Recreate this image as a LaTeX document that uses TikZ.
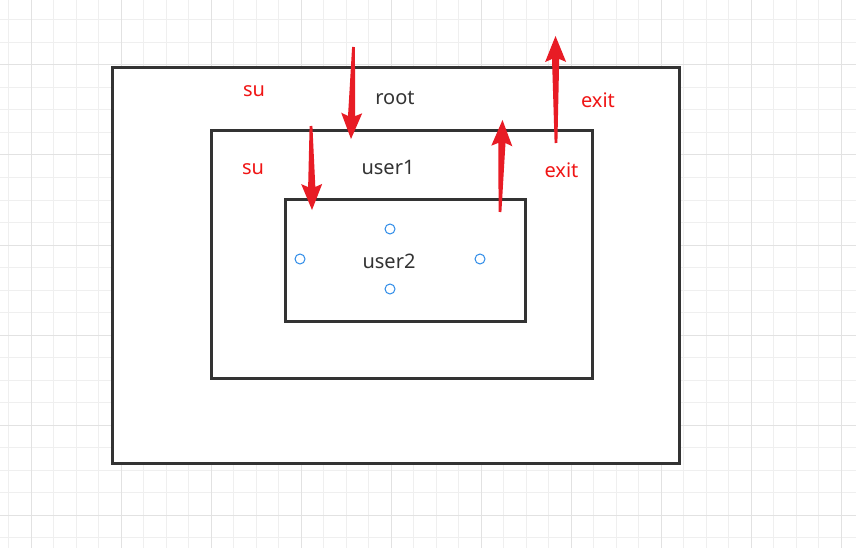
\documentclass[tikz,border=0pt]{standalone}
\usepackage{fontspec}
\setmainfont{Noto Sans}
\usetikzlibrary{calc}
\definecolor{gridminor}{HTML}{EFEFEF}
\definecolor{gridmajor}{HTML}{E2E2E2}
\definecolor{boxline}{HTML}{333333}
\definecolor{arrred}{HTML}{E81C25}
\definecolor{txtred}{HTML}{F01515}
\definecolor{ptblue}{HTML}{2E8BE8}
\tikzset{
  box/.style={draw=boxline, line width=3pt, fill=white, rectangle, inner sep=0pt},
  lbl/.style={font=\fontsize{20}{22}\selectfont, text=black!80, inner sep=0pt},
  redlbl/.style={font=\fontsize{20}{22}\selectfont, text=txtred, inner sep=0pt},
  redarrow/.style={fill=arrred},
  pt/.style={circle, draw=ptblue, line width=1pt, fill=white, minimum size=10pt, inner sep=0pt}
}
\newcommand\taperarrow[2]{%
  \fill[redarrow]
    ($(#1)!1.4pt!90:(#2)$) --
    ($($(#2)!23pt!(#1)$)!3.6pt!90:(#2)$) --
    ($($(#2)!26pt!(#1)$)!10.5pt!90:(#2)$) --
    (#2) --
    ($($(#2)!26pt!(#1)$)!10.5pt!-90:(#2)$) --
    ($($(#2)!23pt!(#1)$)!3.6pt!-90:(#2)$) --
    ($(#1)!1.4pt!-90:(#2)$) -- cycle;}
\begin{document}
\begin{tikzpicture}[x=1pt, y=-1pt]
\useasboundingbox (0,0) rectangle (856,548);
\fill[white] (0,0) rectangle (856,548);
% grid
\foreach \i in {0,...,37} {
  \draw[gridminor, line width=1pt] ({8.5+22.5*\i},0) -- ({8.5+22.5*\i},548);
}
\foreach \j in {1,...,24} {
  \draw[gridminor, line width=1pt] (0,{-2.5+22.5*\j}) -- (856,{-2.5+22.5*\j});
}
\foreach \i in {0,...,9} {
  \draw[gridmajor, line width=1pt] ({31+90*\i},0) -- ({31+90*\i},548);
}
\foreach \j in {0,...,5} {
  \draw[gridmajor, line width=1pt] (0,{65+90*\j}) -- (856,{65+90*\j});
}
% boxes
\node[box, minimum width=566.5pt, minimum height=395.5pt] (outer) at (395.75,265.25) {};
\node[box, minimum width=381pt, minimum height=247pt] (middle) at (401.5,254.5) {};
\node[box, minimum width=240pt, minimum height=122pt] (inner) at (405.5,260.4) {};
% labels
\node[lbl] (root) at (395,98) {root};
\node[lbl] (user1) at (388,167) {user1};
\node[lbl] (user2) at (389,261) {user2};
\node[redlbl] (su1) at (254,91) {su};
\node[redlbl] (su2) at (253,169) {su};
\node[redlbl] (exit1) at (598,100) {exit};
\node[redlbl] (exit2) at (561.5,170) {exit};
% connection points
\node[pt] (ptop) at (390,229) {};
\node[pt] (pleft) at (300,259) {};
\node[pt] (pright) at (480,259) {};
\node[pt] (pbot) at (390,289) {};
% arrows
\coordinate (a1s) at (353.5,47);
\coordinate (a1e) at (351,139);
\coordinate (a2s) at (311,126);
\coordinate (a2e) at (312,210);
\coordinate (a3s) at (500,212);
\coordinate (a3e) at (502.5,120);
\coordinate (a4s) at (556,143);
\coordinate (a4e) at (555.5,36);
\taperarrow{a1s}{a1e}
\taperarrow{a2s}{a2e}
\taperarrow{a3s}{a3e}
\taperarrow{a4s}{a4e}
\end{tikzpicture}
\end{document}
